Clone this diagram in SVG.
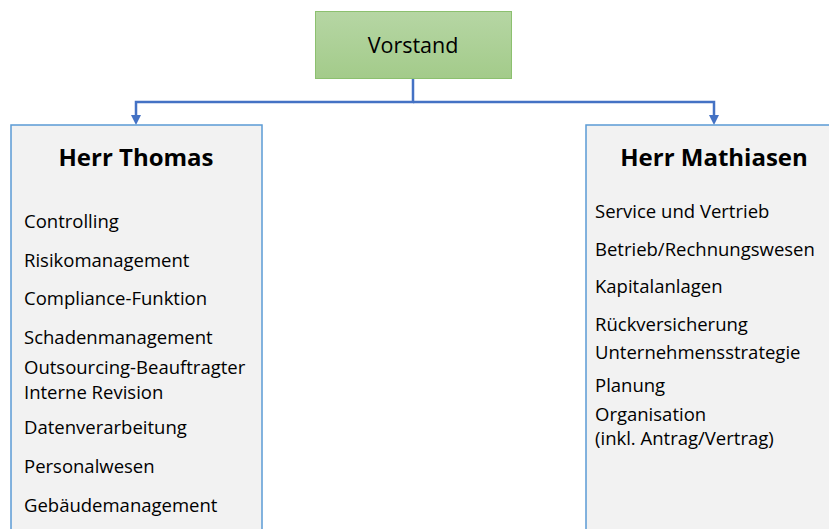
<svg xmlns="http://www.w3.org/2000/svg" width="829" height="529" viewBox="0 0 829 529">
<defs>
<linearGradient id="g" x1="0" y1="0" x2="0" y2="1">
<stop offset="0" stop-color="#b6d6a4"/>
<stop offset="1" stop-color="#a3cb8a"/>
</linearGradient>
<style>
text{font-family:"Open Sans","Liberation Sans",sans-serif;fill:#000}
.t{font-size:18.5px}
.h{font-size:24px;font-weight:bold;text-anchor:middle}
.box{fill:#f2f2f2;stroke:#5b9bd5;stroke-width:1.5}
.c{fill:none;stroke:#4472c4;stroke-width:2.5}
</style>
</defs>
<rect width="829" height="529" fill="#fff"/>
<g id="connectors">
<path class="c" d="M413,78 V102 H136 V117"/>
<path class="c" d="M413,102 H714 V117"/>
<path d="M131,115 L141,115 L136,125 Z" fill="#4472c4"/>
<path d="M709,115 L719,115 L714,125 Z" fill="#4472c4"/>
</g>
<g id="vorstand">
<rect x="315.5" y="11.5" width="196" height="67" fill="url(#g)" stroke="#8cc06f" stroke-width="1"/>
<text x="413" y="53" style="font-size:21.5px;text-anchor:middle">Vorstand</text>
</g>
<g id="herr-thomas">
<rect class="box" x="11" y="125" width="251" height="410"/>
<text class="h" x="136" y="166">Herr Thomas</text>
<text class="t" x="24" y="228">Controlling</text>
<text class="t" x="24" y="267">Risikomanagement</text>
<text class="t" x="24" y="305">Compliance-Funktion</text>
<text class="t" x="24" y="344">Schadenmanagement</text>
<text class="t" x="24" y="374">Outsourcing-Beauftragter</text>
<text class="t" x="24" y="399">Interne Revision</text>
<text class="t" x="24" y="434">Datenverarbeitung</text>
<text class="t" x="24" y="473">Personalwesen</text>
<text class="t" x="24" y="512">Gebäudemanagement</text>
</g>
<g id="herr-mathiasen">
<rect class="box" x="586" y="125" width="260" height="410"/>
<text class="h" x="714" y="166">Herr Mathiasen</text>
<text class="t" x="595" y="218">Service und Vertrieb</text>
<text class="t" x="595" y="256">Betrieb/Rechnungswesen</text>
<text class="t" x="595" y="293">Kapitalanlagen</text>
<text class="t" x="595" y="331">Rückversicherung</text>
<text class="t" x="595" y="359">Unternehmensstrategie</text>
<text class="t" x="595" y="392">Planung</text>
<text class="t" x="595" y="421">Organisation</text>
<text class="t" x="595" y="445">(inkl. Antrag/Vertrag)</text>
</g>
</svg>
